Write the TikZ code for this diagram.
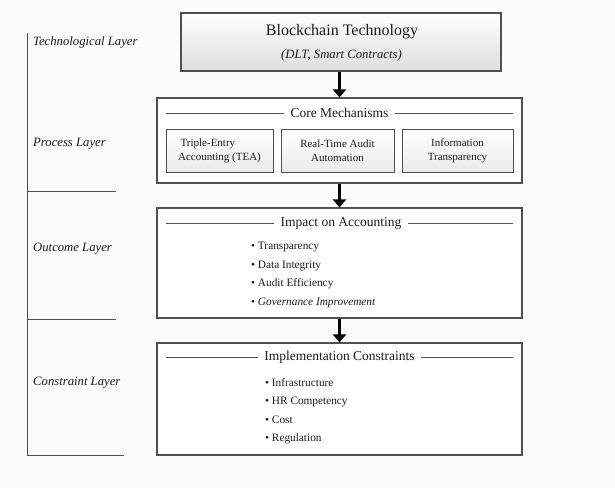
\documentclass[tikz,border=0pt]{standalone}
\usepackage{fontspec}
\setmainfont{Liberation Serif}
\usetikzlibrary{arrows.meta}
\definecolor{pagebg}{HTML}{FBFBFB}
\definecolor{edge}{HTML}{505050}
\definecolor{ink}{HTML}{1A1A1A}
\begin{document}
\begin{tikzpicture}[x=1pt,y=-1pt,
  frame/.style={draw=edge,line width=1.1pt,fill=white,inner sep=0pt},
  shadebox/.style={draw=edge,line width=1.2pt,inner sep=0pt,top color=white,bottom color=black!13},
  subbox/.style={draw=edge,line width=1pt,inner sep=0pt,top color=white,bottom color=black!8,
    minimum height=43pt,align=center,font=\fontsize{11}{14}\selectfont,text=ink},
  boxtitle/.style={font=\fontsize{13.5}{15}\selectfont,text=ink,inner sep=6pt},
  rule/.style={draw=edge,line width=0.9pt},
  layer/.style={anchor=west,font=\fontsize{12.7}{14}\itshape,text=ink,inner sep=0pt},
  bullets/.style={anchor=north west,align=left,inner sep=0pt,text=ink,
    font=\fontsize{11.3}{18.6}\selectfont},
  flow/.style={-{Triangle[width=13pt,length=8pt]},line width=3.5pt,draw=black}]
% page
\fill[pagebg] (0,0) rectangle (615,488);
\useasboundingbox (0,0) rectangle (615,488);

% layer column
\draw[edge,line width=1pt] (27,33) -- (27,455) -- (124,455);
\draw[edge,line width=1pt] (27,191) -- (116,191);
\draw[edge,line width=1pt] (27,319) -- (116,319);
\node[layer] (ltech) at (33,42) {Technological Layer};
\node[layer] (lproc) at (33,144) {Process Layer};
\node[layer] (lout) at (33,249) {Outcome Layer};
\node[layer] (lcon) at (33,383) {Constraint Layer};

% technology box
\node[shadebox,minimum width=320pt,minimum height=58pt] (tech) at (341,42) {};
\node[font=\fontsize{16}{18}\selectfont,text=ink] (techT) at (342,32) {Blockchain Technology};
\node[font=\fontsize{12.7}{14}\itshape,text=ink] (techS) at (341.5,55) {(DLT, Smart Contracts)};

% core mechanisms
\node[frame,minimum width=365pt,minimum height=85pt] (core) at (339.5,140.5) {};
\node[boxtitle] (coreT) at (339.5,113) {Core Mechanisms};
\draw[rule] (166,113) -- (coreT.west);
\draw[rule] (coreT.east) -- (513,113);
\node[subbox,minimum width=107pt,align=left] (tea) at (219.5,150.5) {\hspace*{2.5pt}Triple-Entry\\Accounting (TEA)};
\node[subbox,minimum width=113pt] (audit) at (337.5,150.5) {Real-Time Audit\\Automation};
\node[subbox,minimum width=111pt] (info) at (457.5,150.5) {Information\\Transparency};

% impact on accounting
\node[frame,minimum width=365pt,minimum height=110pt] (impact) at (339.5,263) {};
\node[boxtitle] (impT) at (341,223) {Impact on Accounting};
\draw[rule] (166,223) -- (impT.west);
\draw[rule] (impT.east) -- (513,223);
\node[bullets] (impL) at (251,242) {\textbullet\ Transparency\\
  \textbullet\ Data Integrity\\
  \textbullet\ Audit Efficiency\\
  \textbullet\ \textit{Governance Improvement}};

% implementation constraints
\node[frame,minimum width=365pt,minimum height=112pt] (constr) at (339.5,399) {};
\node[boxtitle] (conT) at (339.5,357) {Implementation Constraints};
\draw[rule] (166,357) -- (conT.west);
\draw[rule] (conT.east) -- (513,357);
\node[bullets] (conL) at (265,378) {\textbullet\ Infrastructure\\
  \textbullet\ HR Competency\\
  \textbullet\ Cost\\
  \textbullet\ Regulation};

% flow arrows
\draw[flow] (tech.south -| core.north) -- (core.north);
\draw[flow] (core.south) -- (impact.north);
\draw[flow] (impact.south) -- (constr.north);
\end{tikzpicture}
\end{document}
